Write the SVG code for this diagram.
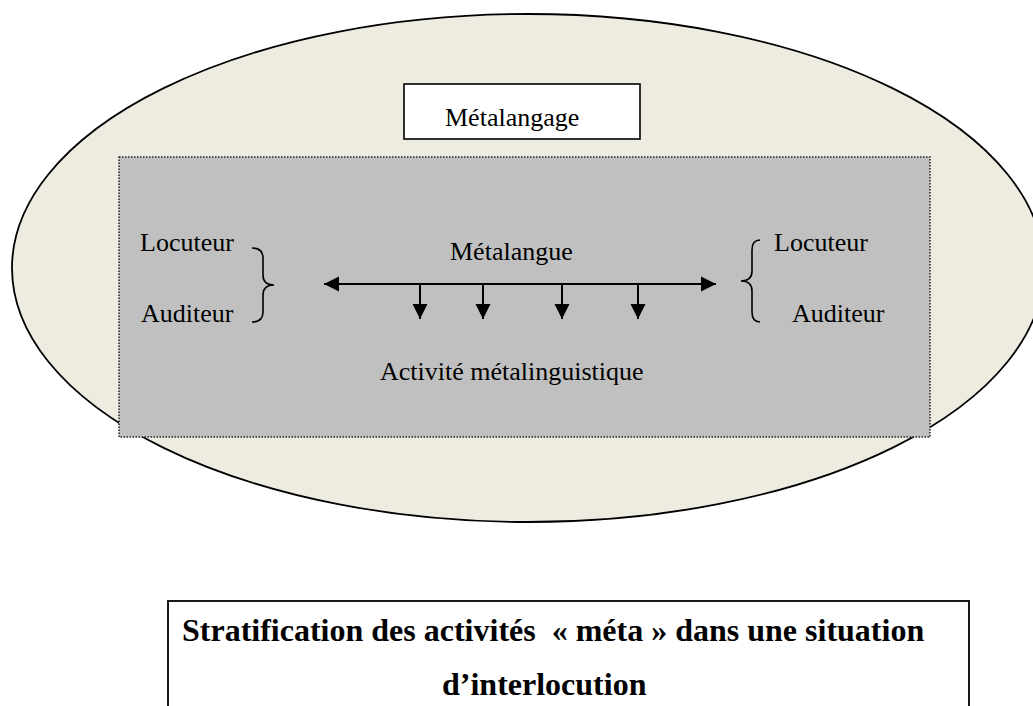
<svg xmlns="http://www.w3.org/2000/svg" width="1033" height="706" viewBox="0 0 1033 706">
<style>
.t{font-family:"Liberation Serif","Times New Roman",serif;font-size:26px;fill:#000}
.cap{font-family:"Liberation Serif","Times New Roman",serif;font-size:32px;font-weight:bold;fill:#000;white-space:pre}
.brace{fill:none;stroke:#000;stroke-width:1.6}
.conn{stroke:#000;stroke-width:2;fill:none}
</style>
<defs>
<marker id="ah" markerUnits="userSpaceOnUse" markerWidth="16" markerHeight="16" viewBox="0 0 16 16" refX="15" refY="8" orient="auto-start-reverse">
<path d="M0,0.5 L15,8 L0,15.5 Z" fill="#000"/>
</marker>
</defs>
<rect width="1033" height="706" fill="#fff"/>
<g id="ellipse">
<ellipse cx="528" cy="268" rx="516" ry="254" fill="#EEECE1" stroke="#000" stroke-width="1.8"/>
</g>
<g id="metalangage">
<rect x="404" y="84" width="236" height="55" fill="#fff" stroke="#000" stroke-width="1.6"/>
<text class="t" x="445" y="126">Métalangage</text>
</g>
<g id="activity-area">
<rect x="119" y="157" width="811" height="280" fill="#C0C0C0" stroke="#222" stroke-width="1.5" stroke-dasharray="1.5 1.5"/>
</g>
<g id="left-speakers">
<text class="t" x="140" y="251">Locuteur</text>
<text class="t" x="141" y="322">Auditeur</text>
<path class="brace" d="M252,248 Q263,248 263,258 L263,275 Q263,285 274,285 Q263,285 263,295 L263,312 Q263,322 252,322"/>
</g>
<g id="right-speakers">
<text class="t" x="774" y="251">Locuteur</text>
<text class="t" x="792" y="322">Auditeur</text>
<path class="brace" d="M760,240 Q752,240 752,250 L752,271 Q752,281 741,281 Q752,281 752,291 L752,312 Q752,322 760,322"/>
</g>
<g id="metalangue">
<text class="t" x="450" y="260">Métalangue</text>
</g>
<g id="activite">
<text class="t" x="380" y="380">Activité métalinguistique</text>
</g>
<g id="connectors">
<line class="conn" x1="324" y1="284" x2="716" y2="284" marker-start="url(#ah)" marker-end="url(#ah)"/>
<line class="conn" x1="420" y1="285" x2="420" y2="319" marker-end="url(#ah)"/>
<line class="conn" x1="483" y1="285" x2="483" y2="319" marker-end="url(#ah)"/>
<line class="conn" x1="562" y1="285" x2="562" y2="319" marker-end="url(#ah)"/>
<line class="conn" x1="638" y1="285" x2="638" y2="319" marker-end="url(#ah)"/>
</g>
<g id="caption">
<rect x="168" y="601" width="801" height="120" fill="#fff" stroke="#000" stroke-width="1.8"/>
<text class="cap" x="182" y="641" xml:space="preserve">Stratification des activités  « méta » dans une situation</text>
<text class="cap" x="442" y="695">d’interlocution</text>
</g>
</svg>
